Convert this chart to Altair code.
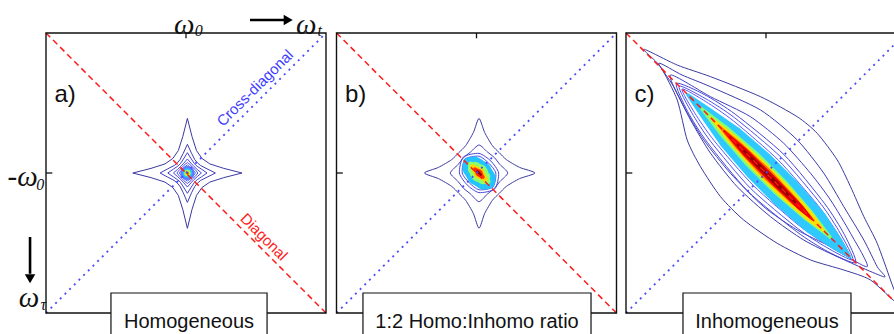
import altair as alt
import pandas as pd

# ---------------- data (axis units: each square frame spans -1..1) ----------------
PANEL_LETTERS = ["a)", "b)", "c)"]
BOX_LABELS = ["Homogeneous", "1:2 Homo:Inhomo ratio", "Inhomogeneous"]
BOX_SPANS = [(-0.536, 0.579), (-0.811, 0.818), (-0.593, 0.607)]

PEAK_A = (0.01, 0.0)
PEAK_B = (0.018, 0.0)
PEAK_C = (0.0, 0.0)

# panel a : homogeneous star-shaped contours
A_CONTOURS = [
    [(0.39, 0), (0.26, 0.033), (0.16, 0.065), (0.104, 0.104), (0.065, 0.16), (0.033, 0.26),
     (0, 0.39), (-0.033, 0.26), (-0.065, 0.16), (-0.104, 0.104), (-0.16, 0.065), (-0.26, 0.033),
     (-0.39, 0), (-0.26, -0.033), (-0.16, -0.065), (-0.104, -0.104), (-0.065, -0.16), (-0.033, -0.26),
     (0, -0.395), (0.033, -0.26), (0.065, -0.16), (0.104, -0.104), (0.16, -0.065), (0.26, -0.033)],
    [(0.20, 0), (0.14, 0.03), (0.095, 0.053), (0.072, 0.072), (0.053, 0.095), (0.03, 0.14),
     (0, 0.205), (-0.03, 0.14), (-0.053, 0.095), (-0.072, 0.072), (-0.095, 0.053), (-0.14, 0.03),
     (-0.195, 0), (-0.14, -0.03), (-0.095, -0.053), (-0.072, -0.072), (-0.053, -0.095), (-0.03, -0.14),
     (0, -0.21), (0.03, -0.14), (0.053, -0.095), (0.072, -0.072), (0.095, -0.053), (0.14, -0.03)],
    [(0.14, 0), (0.1, 0.028), (0.07, 0.048), (0.058, 0.058), (0.048, 0.07), (0.028, 0.1),
     (0, 0.145), (-0.028, 0.1), (-0.048, 0.07), (-0.058, 0.058), (-0.07, 0.048), (-0.1, 0.028),
     (-0.14, 0), (-0.1, -0.028), (-0.07, -0.048), (-0.058, -0.058), (-0.048, -0.07), (-0.028, -0.1),
     (0, -0.145), (0.028, -0.1), (0.048, -0.07), (0.058, -0.058), (0.07, -0.048), (0.1, -0.028)],
    [(0.10, 0), (0.07, 0.026), (0.047, 0.047), (0.026, 0.07), (0, 0.10), (-0.026, 0.07),
     (-0.047, 0.047), (-0.07, 0.026), (-0.10, 0), (-0.07, -0.026), (-0.047, -0.047), (-0.026, -0.07),
     (0, -0.10), (0.026, -0.07), (0.047, -0.047), (0.07, -0.026)],
    [(0.075, 0), (0.055, 0.025), (0.039, 0.039), (0.025, 0.055), (0, 0.075), (-0.025, 0.055),
     (-0.039, 0.039), (-0.055, 0.025), (-0.075, 0), (-0.055, -0.025), (-0.039, -0.039), (-0.025, -0.055),
     (0, -0.075), (0.025, -0.055), (0.039, -0.039), (0.055, -0.025)],
    [(0.058, 0), (0.033, 0.033), (0, 0.058), (-0.033, 0.033), (-0.058, 0), (-0.033, -0.033),
     (0, -0.058), (0.033, -0.033)],
]
A_COLORS = ["#3a3aa0", "#3e3eb4", "#4444cc", "#4a4ae0", "#5050f0", "#5a5aff"]
A_BLOB_R = [0.057, 0.039, 0.026, 0.016, 0.009]
A_BLOB_COL = ["#5a7cff", "#22c4ff", "#9cff62", "#ffc400", "#e00000"]

# panel b : mixed lineshape
B_CONTOURS = [
    [(0.40, 0), (0.29, 0.04), (0.196, 0.095), (0.145, 0.145), (0.095, 0.196), (0.04, 0.29),
     (0, 0.39), (-0.04, 0.29), (-0.095, 0.196), (-0.145, 0.145), (-0.196, 0.095), (-0.29, 0.04),
     (-0.39, 0), (-0.29, -0.04), (-0.196, -0.095), (-0.145, -0.145), (-0.095, -0.196), (-0.04, -0.29),
     (0, -0.395), (0.04, -0.29), (0.095, -0.196), (0.145, -0.145), (0.196, -0.095), (0.29, -0.04)],
    [(0.205, 0), (0.15, 0.06), (0.11, 0.11), (0.06, 0.15), (0, 0.2), (-0.06, 0.15),
     (-0.11, 0.11), (-0.15, 0.06), (-0.205, 0), (-0.15, -0.06), (-0.11, -0.11), (-0.06, -0.15),
     (0, -0.205), (0.06, -0.15), (0.11, -0.11), (0.15, -0.06)],
    [(0.14, 0), (0.085, 0.085), (0, 0.14), (-0.113, 0.113), (-0.14, 0), (-0.085, -0.085),
     (0, -0.14), (0.113, -0.113)],
    [(0.12, 0), (0.07, 0.07), (0, 0.12), (-0.1, 0.1), (-0.12, 0), (-0.07, -0.07),
     (0, -0.12), (0.1, -0.1)],
    [(0.1, 0), (0.058, 0.058), (0, 0.1), (-0.088, 0.088), (-0.1, 0), (-0.058, -0.058),
     (0, -0.1), (0.088, -0.088)],
]
B_COLORS = ["#3a3aa0", "#3e3eb8", "#4545d8", "#4c4ce8", "#5555fa"]
B_TRAILS = [  # (positions along the diagonal, widths in px, colour)
    ([-0.075, -0.04, 0, 0.04, 0.075], [10, 22, 26, 22, 10], "#22c4ff"),
    ([-0.06, -0.03, 0, 0.03, 0.06], [6, 14, 18, 14, 6], "#8cff6a"),
    ([-0.045, 0, 0.045], [5, 11, 5], "#ffd400"),
    ([-0.03, 0, 0.03], [3, 7, 3], "#ff3000"),
    ([-0.012, 0.012], [2.5, 2.5], "#8a0000"),
]

# panel c : inhomogeneous, elongated along the diagonal
C_CONTOURS = [
    [(-0.873, 0.884), (-0.634, 0.771), (-0.396, 0.688), (-0.039, 0.545), (0.223, 0.402),
     (0.366, 0.283), (0.509, 0.093), (0.604, -0.098), (0.699, -0.312), (0.794, -0.502),
     (0.889, -0.764), (0.94, -0.93), (0.746, -0.764), (0.556, -0.693), (0.318, -0.621),
     (0.08, -0.502), (-0.159, -0.336), (-0.325, -0.169), (-0.468, 0.045), (-0.563, 0.236),
     (-0.634, 0.521), (-0.754, 0.759)],
    [(-0.766, 0.784), (-0.6, 0.7), (-0.396, 0.616), (-0.039, 0.45), (0.223, 0.236),
     (0.413, -0.002), (0.556, -0.241), (0.699, -0.479), (0.794, -0.669), (0.841, -0.741),
     (0.509, -0.598), (0.27, -0.479), (0.032, -0.312), (-0.206, -0.098), (-0.396, 0.141),
     (-0.539, 0.379), (-0.659, 0.616)],
    [(-0.682, 0.7), (-0.396, 0.545), (-0.111, 0.402), (0.127, 0.212), (0.318, -0.002),
     (0.461, -0.193), (0.604, -0.431), (0.723, -0.669), (0.461, -0.526), (0.223, -0.407),
     (-0.016, -0.241), (-0.254, -0.002), (-0.444, 0.236), (-0.587, 0.474)],
    [(-0.64, 0.64), (-0.44, 0.56), (-0.22, 0.42), (0.13, 0.13), (0.42, -0.22), (0.56, -0.44),
     (0.64, -0.64), (0.44, -0.56), (0.22, -0.42), (-0.13, -0.13), (-0.42, 0.22), (-0.56, 0.44)],
    [(-0.62, 0.62), (-0.43, 0.53), (-0.225, 0.395), (0.11, 0.11), (0.395, -0.225), (0.53, -0.43),
     (0.62, -0.62), (0.43, -0.53), (0.225, -0.395), (-0.11, -0.11), (-0.395, 0.225), (-0.53, 0.43)],
    [(-0.6, 0.6), (-0.43, 0.51), (-0.23, 0.37), (0.09, 0.09), (0.37, -0.23), (0.51, -0.43),
     (0.6, -0.6), (0.43, -0.51), (0.23, -0.37), (-0.09, -0.09), (-0.37, 0.23), (-0.51, 0.43)],
]
C_COLORS = ["#3a3aa0", "#3a3aac", "#3e3ec0", "#4848d8", "#5050ea", "#5a5afa"]
C_TRAILS = [
    ([-0.56, -0.42, -0.25, -0.05, 0.15, 0.35, 0.5, 0.6], [3, 14, 26, 32, 32, 26, 14, 3], "#2fc8ff"),
    ([-0.46, -0.3, -0.1, 0.1, 0.3, 0.46], [3, 12, 18, 18, 12, 3], "#7dff7a"),
    ([-0.4, -0.25, -0.05, 0.15, 0.32, 0.42], [2, 10, 14, 14, 9, 2], "#ffe000"),
    ([-0.34, -0.2, 0, 0.2, 0.34], [2, 8, 11, 8, 2], "#ff8000"),
    ([-0.3, -0.15, 0.05, 0.25, 0.33], [2, 7, 8, 6, 2], "#ee0000"),
    ([-0.2, -0.05, 0.1, 0.22], [2, 4, 4, 2], "#900000"),
]

# ---------------- layout helpers ----------------
K = 140.0                       # px per axis unit
Y_DOM = [-1 - 21 / K, 1 + 33 / K]
H = 334
SLOTS = [(46, 331), (5.5, 291), (4, 272)]   # (left margin px, slot width px)

FRAME = pd.DataFrame({"x": [-1], "x2": [1], "y": [-1], "y2": [1]})
DIAG = pd.DataFrame({"x": [-1, 1], "y": [1, -1]})
XDIAG = pd.DataFrame({"x": [-1, 1], "y": [-1, 1]})
TICKS = pd.DataFrame({"x": [0, -1], "x2": [0, -0.955], "y": [1, 0], "y2": [0.962, 0]})


def contour_df(contours, colors, peak):
    rows = []
    for cid, (pts, col) in enumerate(zip(contours, colors)):
        for i, (x, y) in enumerate(pts):
            rows.append(dict(cid=cid, ord=i, x=x + peak[0], y=y + peak[1], color=col))
    return pd.DataFrame(rows)


def trail_df(ts, ws, peak):
    return pd.DataFrame({"ord": list(range(len(ts))),
                         "x": [t + peak[0] for t in ts],
                         "y": [-t + peak[1] for t in ts],
                         "w": ws})


def make_panel(idx, contours, colors, peak, interp, trails=None, blob=None):
    left, width = SLOTS[idx]
    lo = -1 - left / K
    xs = alt.Scale(domain=[lo, lo + width / K], nice=False, zero=False)
    ys = alt.Scale(domain=Y_DOM, nice=False, zero=False)
    X = lambda f="x": alt.X(f"{f}:Q", scale=xs, axis=None)
    Y = lambda f="y": alt.Y(f"{f}:Q", scale=ys, axis=None)

    layers = []
    layers.append(
        alt.Chart(contour_df(contours, colors, peak)).mark_line(
            interpolate=interp, strokeWidth=1.0, clip=True, tension=0.3
        ).encode(x=X(), y=Y(), detail="cid:N", order="ord:Q",
                 color=alt.Color("color:N", scale=None))
    )
    if trails:
        for ts, ws, col in trails:
            layers.append(
                alt.Chart(trail_df(ts, ws, peak)).mark_trail(color=col, clip=True).encode(
                    x=X(), y=Y(), order="ord:Q", size=alt.Size("w:Q", scale=None))
            )
    if blob:
        rs, cols = blob
        bdf = pd.DataFrame({"x": [peak[0]] * len(rs), "y": [peak[1]] * len(rs),
                            "s": [3.1416 * (r * K) ** 2 for r in rs], "c": cols})
        layers.append(
            alt.Chart(bdf).mark_circle(opacity=1, clip=True).encode(
                x=X(), y=Y(), size=alt.Size("s:Q", scale=None),
                color=alt.Color("c:N", scale=None))
        )
    layers.append(
        alt.Chart(DIAG).mark_line(color="#ff1a1a", strokeDash=[6, 4], strokeWidth=1.5,
                                  clip=True).encode(x=X(), y=Y())
    )
    layers.append(
        alt.Chart(XDIAG).mark_line(color="#4b4bff", strokeDash=[2, 4.6], strokeWidth=1.8,
                                   clip=True).encode(x=X(), y=Y())
    )
    layers.append(
        alt.Chart(FRAME).mark_rect(fillOpacity=0, stroke="#111111", strokeWidth=1.4,
                                   clip=True).encode(x=X(), x2="x2:Q", y=Y(), y2="y2:Q")
    )
    layers.append(
        alt.Chart(TICKS).mark_rule(color="#111111", strokeWidth=1.3).encode(
            x=X(), x2="x2:Q", y=Y(), y2="y2:Q")
    )
    layers.append(
        alt.Chart(pd.DataFrame({"x": [-0.94], "y": [0.557], "t": [PANEL_LETTERS[idx]]}))
        .mark_text(font="Liberation Sans", fontSize=24, align="left", color="#111111")
        .encode(x=X(), y=Y(), text="t:N")
    )
    b0, b1 = BOX_SPANS[idx]
    layers.append(
        alt.Chart(pd.DataFrame({"x": [b0], "x2": [b1], "y": [-0.857], "y2": [-1.3]}))
        .mark_rect(fill="white", stroke="#111111", strokeWidth=1.2, clip=True)
        .encode(x=X(), x2="x2:Q", y=Y(), y2="y2:Q")
    )
    layers.append(
        alt.Chart(pd.DataFrame({"x": [(b0 + b1) / 2], "y": [-1.064], "t": [BOX_LABELS[idx]]}))
        .mark_text(font="Liberation Sans", fontSize=20, align="center", color="#111111")
        .encode(x=X(), y=Y(), text="t:N")
    )

    if idx == 0:
        big = pd.DataFrame({"x": [-0.085, 0.785, -1.275, -1.195],
                            "y": [1.057, 1.054, -0.032, -0.896],
                            "t": ["ω", "ω", "-ω", "ω"]})
        small = pd.DataFrame({"x": [0.062, 0.94, -1.07, -1.04],
                              "y": [1.012, 1.015, -0.085, -0.945],
                              "t": ["0", "t", "0", "τ"]})
        layers.append(
            alt.Chart(big).mark_text(font="Liberation Serif", fontStyle="italic", fontSize=29,
                                     align="left", color="#111111").encode(x=X(), y=Y(), text="t:N"))
        layers.append(
            alt.Chart(small).mark_text(font="Liberation Serif", fontStyle="italic", fontSize=16,
                                       align="left", color="#111111").encode(x=X(), y=Y(), text="t:N"))
        layers.append(
            alt.Chart(pd.DataFrame({"x": [0.457, -1.114], "x2": [0.70, -1.114],
                                    "y": [1.093, -0.457], "y2": [1.093, -0.72]}))
            .mark_rule(color="#000000", strokeWidth=2.6).encode(x=X(), x2="x2:Q", y=Y(), y2="y2:Q"))
        layers.append(
            alt.Chart(pd.DataFrame({"x": [0.73], "y": [1.093]}))
            .mark_point(shape="triangle-right", filled=True, size=110, color="#000000", opacity=1)
            .encode(x=X(), y=Y()))
        layers.append(
            alt.Chart(pd.DataFrame({"x": [-1.114], "y": [-0.755]}))
            .mark_point(shape="triangle-down", filled=True, size=110, color="#000000", opacity=1)
            .encode(x=X(), y=Y()))
        layers.append(
            alt.Chart(pd.DataFrame({"x": [0.493], "y": [0.607], "t": ["Cross-diagonal"]}))
            .mark_text(font="Liberation Sans", fontSize=15, angle=315, color="#3c3cff")
            .encode(x=X(), y=Y(), text="t:N"))
        layers.append(
            alt.Chart(pd.DataFrame({"x": [0.557], "y": [-0.457], "t": ["Diagonal"]}))
            .mark_text(font="Liberation Sans", fontSize=15, angle=45, color="#ff2020")
            .encode(x=X(), y=Y(), text="t:N"))

    return alt.layer(*layers).properties(width=width, height=H)


pa = make_panel(0, A_CONTOURS, A_COLORS, PEAK_A, "linear-closed", blob=(A_BLOB_R, A_BLOB_COL))
pb = make_panel(1, B_CONTOURS, B_COLORS, PEAK_B, "cardinal-closed", trails=B_TRAILS)
pc = make_panel(2, C_CONTOURS, C_COLORS, PEAK_C, "cardinal-closed", trails=C_TRAILS)

chart = alt.hconcat(pa, pb, pc, spacing=0).properties(padding=0).configure_view(stroke=None)
chart.save("out.html", embed_options={"renderer": "svg", "actions": False})
